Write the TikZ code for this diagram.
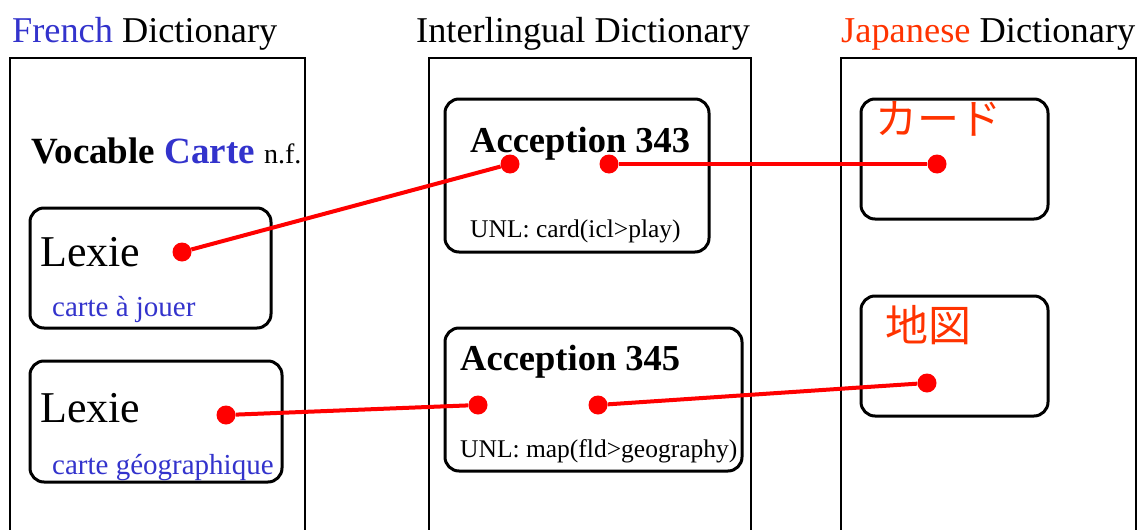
\documentclass[tikz,border=0pt]{standalone}
\usepackage{fontspec}
\setmainfont{Liberation Serif}
\newfontfamily\jpfont{Noto Sans CJK JP}
\definecolor{frblue}{RGB}{51,51,204}
\definecolor{jpred}{RGB}{255,51,0}
\newcommand{\fsz}[1]{\fontsize{#1}{#1}\selectfont}
\begin{document}
\begin{tikzpicture}[x=1pt,y=-1pt,
  column/.style={draw, line width=1.5pt},
  card/.style={draw, line width=3pt, rounded corners=14pt, anchor=north west, inner sep=0pt, outer sep=0pt},
  dot/.style={circle, fill=red, inner sep=0pt, minimum size=19pt},
  link/.style={red, line width=4pt},
  txt/.style={inner sep=0pt, anchor=base west}]
\useasboundingbox (0,0) rectangle (1138,530);
% titles
\node[txt] (tfr) at (12,42) {\fsz{36.3}\textcolor{frblue}{French} Dictionary};
\node[txt] (til) at (416,42) {\fsz{36.3}Interlingual Dictionary};
\node[txt] (tjp) at (841,42) {\fsz{36.4}\textcolor{jpred}{Japanese} Dictionary};
% columns
\draw[column] (10,545) -- (10,58) -- (305,58) -- (305,545);
\draw[column] (429,545) -- (429,58) -- (751,58) -- (751,545);
\draw[column] (841,545) -- (841,58) -- (1136,58) -- (1136,545);
% French
\node[txt] (voc) at (31,163) {\fsz{37}\textbf{Vocable \textcolor{frblue}{Carte}} {\fsz{28}n.f.}};
\node[card, minimum width=241pt, minimum height=120pt] (lx1) at (30,208) {};
\node[txt] (lx1t) at (40,266) {\fsz{44}Lexie};
\node[txt] (lx1s) at (52,316) {\fsz{29}\textcolor{frblue}{carte à jouer}};
\node[card, minimum width=252pt, minimum height=121pt] (lx2) at (30,361) {};
\node[txt] (lx2t) at (40,422) {\fsz{44}Lexie};
\node[txt] (lx2s) at (52,474) {\fsz{29}\textcolor{frblue}{carte géographique}};
% Interlingual
\node[card, minimum width=264pt, minimum height=153pt] (ac1) at (445,99) {};
\node[txt] (ac1t) at (470,152) {\fsz{36.5}\textbf{Acception 343}};
\node[txt] (ac1u) at (470,237) {\fsz{25.5}UNL: card(icl>play)};
\node[card, minimum width=297pt, minimum height=143pt] (ac2) at (445,328) {};
\node[txt] (ac2t) at (460,370) {\fsz{36.5}\textbf{Acception 345}};
\node[txt] (ac2u) at (460,457) {\fsz{25.5}UNL: map(fld>geography)};
% Japanese
\node[card, minimum width=187pt, minimum height=120pt] (jp1) at (861,99) {};
\node[txt] (jp1t) at (875,134) {\fsz{42}\jpfont\textcolor{jpred}{カード}};
\node[card, minimum width=187pt, minimum height=120pt] (jp2) at (861,296) {};
\node[txt] (jp2t) at (885,341) {\fsz{43}\jpfont\textcolor{jpred}{地図}};
% dots
\node[dot] (d1) at (182,252) {};
\node[dot] (d2) at (226,415) {};
\node[dot] (a1l) at (510,164) {};
\node[dot] (a1r) at (609,164) {};
\node[dot] (a2l) at (478,405) {};
\node[dot] (a2r) at (598,405) {};
\node[dot] (j1) at (937,164) {};
\node[dot] (j2) at (927,383) {};
% links
\draw[link] (d1) -- (a1l);
\draw[link] (a1r) -- (j1);
\draw[link] (d2) -- (a2l);
\draw[link] (a2r) -- (j2);
\end{tikzpicture}
\end{document}
